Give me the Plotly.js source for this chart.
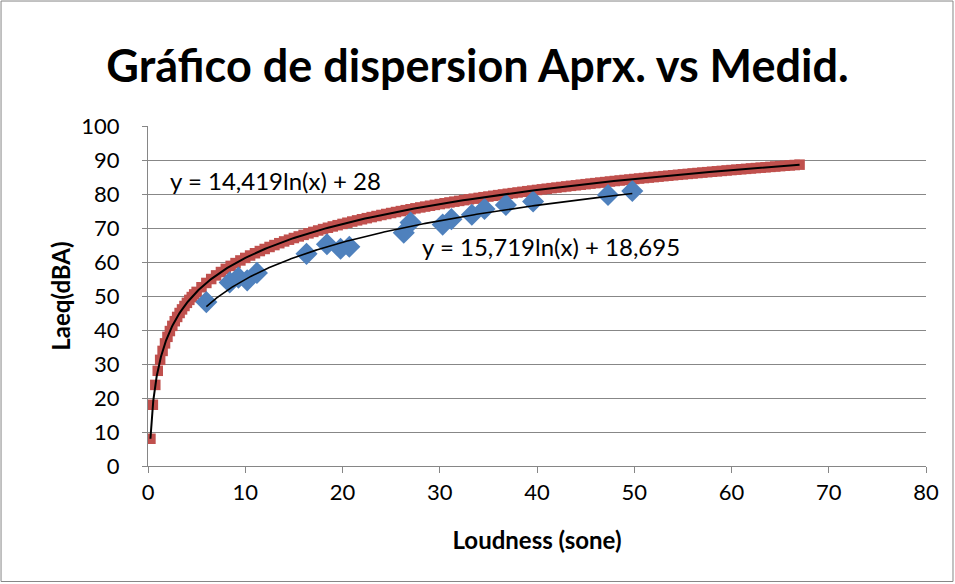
<!DOCTYPE html>
<html>
<head>
<meta charset="utf-8">
<script src="https://cdn.plot.ly/plotly-3.0.1.min.js"></script>
<style>
  html, body { margin: 0; padding: 0; background: #fff; }
  #chart { width: 955px; height: 584px; }
</style>
</head>
<body>
<div id="chart"></div>
<script>
// Approximated series (sone -> dBA)
const aprxLoudness = [
  0.25, 0.5, 0.75, 1, 1.25, 1.5, 1.75, 2, 2.25, 2.5, 2.75, 3, 3.25, 3.5, 3.75, 4, 4.25, 4.5, 4.75, 5,
  5.5, 6, 6.5, 7, 7.5, 8, 8.5, 9, 9.5, 10, 10.5, 11, 11.5, 12, 12.5, 13, 13.5, 14, 14.5, 15,
  15.5, 16, 16.5, 17, 17.5, 18, 18.5, 19, 19.5, 20, 20.5, 21, 21.5, 22, 22.5, 23, 23.5, 24, 24.5, 25,
  25.5, 26, 26.5, 27, 27.5, 28, 28.5, 29, 29.5, 30, 30.5, 31, 31.5, 32, 32.5, 33, 33.5, 34, 34.5, 35,
  35.5, 36, 36.5, 37, 37.5, 38, 38.5, 39, 39.5, 40, 40.5, 41, 41.5, 42, 42.5, 43, 43.5, 44, 44.5, 45,
  45.5, 46, 46.5, 47, 47.5, 48, 48.5, 49, 49.5, 50, 50.5, 51, 51.5, 52, 52.5, 53, 53.5, 54, 54.5, 55,
  55.5, 56, 56.5, 57, 57.5, 58, 58.5, 59, 59.5, 60, 60.5, 61, 61.5, 62, 62.5, 63, 63.5, 64, 64.5, 65,
  65.5, 66, 66.5, 67
];
const aprxLaeq = [
  8.01, 18.01, 23.85, 28.00, 31.22, 33.85, 36.07, 37.99, 39.69, 41.21, 42.59, 43.84, 45.00, 46.06, 47.06, 47.99, 48.86, 49.69, 50.47, 51.21,
  52.58, 53.84, 54.99, 56.06, 57.05, 57.98, 58.86, 59.68, 60.46, 61.20, 61.91, 62.58, 63.22, 63.83, 64.42, 64.98, 65.53, 66.05, 66.56, 67.05,
  67.52, 67.98, 68.42, 68.85, 69.27, 69.68, 70.07, 70.46, 70.83, 71.20, 71.55, 71.90, 72.24, 72.57, 72.89, 73.21, 73.52, 73.83, 74.12, 74.41,
  74.70, 74.98, 75.25, 75.52, 75.79, 76.05, 76.30, 76.55, 76.80, 77.04, 77.28, 77.52, 77.75, 77.97, 78.20, 78.42, 78.63, 78.85, 79.06, 79.26,
  79.47, 79.67, 79.87, 80.07, 80.26, 80.45, 80.64, 80.83, 81.01, 81.19, 81.37, 81.55, 81.72, 81.89, 82.06, 82.23, 82.40, 82.56, 82.73, 82.89,
  83.05, 83.20, 83.36, 83.51, 83.67, 83.82, 83.97, 84.12, 84.26, 84.41, 84.55, 84.69, 84.83, 84.97, 85.11, 85.25, 85.38, 85.52, 85.65, 85.78,
  85.91, 86.04, 86.17, 86.30, 86.42, 86.55, 86.67, 86.79, 86.92, 87.04, 87.16, 87.28, 87.39, 87.51, 87.63, 87.74, 87.85, 87.97, 88.08, 88.19,
  88.30, 88.41, 88.52, 88.63
];

// Measured series
const medLoudness = [6.0, 8.4, 9.3, 10.2, 11.2, 16.3, 18.4, 19.8, 20.7, 26.3, 27.0, 30.3, 31.2, 33.3, 34.6, 36.8, 39.6, 47.3, 49.8];
const medLaeq     = [48.2, 54.0, 55.4, 54.6, 56.8, 62.4, 65.2, 63.9, 64.5, 68.6, 71.6, 71.0, 72.6, 73.9, 75.6, 76.8, 77.8, 79.7, 80.9];

// Logarithmic trendlines: y = a*ln(x) + b
const trendAprx = { a: 14.419, b: 28, label: 'y = 14,419ln(x) + 28' };
const trendMed  = { a: 15.719, b: 18.695, label: 'y = 15,719ln(x) + 18,695' };

const xTicks = [0, 10, 20, 30, 40, 50, 60, 70, 80];
const yTicks = [0, 10, 20, 30, 40, 50, 60, 70, 80, 90, 100];

function trendCurve(t, xs) {
  const lo = Math.min(...xs), hi = Math.max(...xs);
  const px = [], py = [];
  const n = 300;
  for (let i = 0; i <= n; i++) {
    const x = lo * Math.pow(hi / lo, i / n);
    px.push(x);
    py.push(t.a * Math.log(x) + t.b);
  }
  return { x: px, y: py };
}

const cA = trendCurve(trendAprx, aprxLoudness);
const cM = trendCurve(trendMed, medLoudness);

const FONT = 'Lato, "Open Sans", sans-serif';

const data = [
  { x: aprxLoudness, y: aprxLaeq, mode: 'markers', type: 'scatter', name: 'Aprx.',
    marker: { symbol: 'square', size: 10.5, color: '#c0504d' }, hoverinfo: 'x+y' },
  { x: medLoudness, y: medLaeq, mode: 'markers', type: 'scatter', name: 'Medid.',
    marker: { symbol: 'diamond', size: 17, color: '#4f81bd' }, hoverinfo: 'x+y' },
  { x: cA.x, y: cA.y, mode: 'lines', type: 'scatter', line: { color: '#000', width: 2 }, hoverinfo: 'skip' },
  { x: cM.x, y: cM.y, mode: 'lines', type: 'scatter', line: { color: '#000', width: 1.6 }, hoverinfo: 'skip' }
];

const layout = {
  width: 955, height: 584,
  margin: { l: 148, r: 29, t: 126, b: 118 },
  paper_bgcolor: '#fff', plot_bgcolor: '#fff',
  showlegend: false,
  font: { family: FONT, color: '#000' },
  title: { text: '<b>Gráfico de dispersion Aprx. vs Medid.</b>', font: { family: FONT, size: 45, color: '#000' },
           x: 0.5, xanchor: 'center', y: 0.886, yanchor: 'middle' },
  xaxis: {
    range: [0, 80], tickvals: xTicks, ticktext: xTicks.map(String),
    showgrid: false, zeroline: false, showline: true, linecolor: '#868686', linewidth: 1,
    ticks: 'outside', ticklen: 6, tickcolor: '#868686',
    tickfont: { family: FONT, size: 22 }, ticklabelstandoff: 1,
    title: { text: '<b>Loudness (sone)</b>', font: { family: FONT, size: 24 }, standoff: 27 }
  },
  yaxis: {
    range: [0, 100], tickvals: yTicks, ticktext: yTicks.map(String),
    showgrid: true, gridcolor: '#878787', gridwidth: 1, zeroline: false,
    showline: true, linecolor: '#868686', linewidth: 1,
    ticks: 'outside', ticklen: 5, tickcolor: '#868686',
    tickfont: { family: FONT, size: 22 }, ticklabelstandoff: 18,
    title: { text: '<b>Laeq(dBA)</b>', font: { family: FONT, size: 24 }, standoff: 3 }
  },
  annotations: [
    { x: 2.1, y: 84, xref: 'x', yref: 'y', text: trendAprx.label, showarrow: false,
      xanchor: 'left', yanchor: 'middle', font: { family: FONT, size: 24, color: '#000' } },
    { x: 28.0, y: 64.5, xref: 'x', yref: 'y', text: trendMed.label, showarrow: false,
      xanchor: 'left', yanchor: 'middle', font: { family: FONT, size: 24, color: '#000' } }
  ],
  shapes: [
    { type: 'rect', xref: 'paper', yref: 'paper',
      x0: -0.1889, x1: 1.0347, y0: -0.3397, y1: 1.3676,
      line: { color: '#868686', width: 1 }, fillcolor: 'rgba(0,0,0,0)', layer: 'below' }
  ]
};

Plotly.newPlot('chart', data, layout, { staticPlot: true, displayModeBar: false });
</script>
</body>
</html>
